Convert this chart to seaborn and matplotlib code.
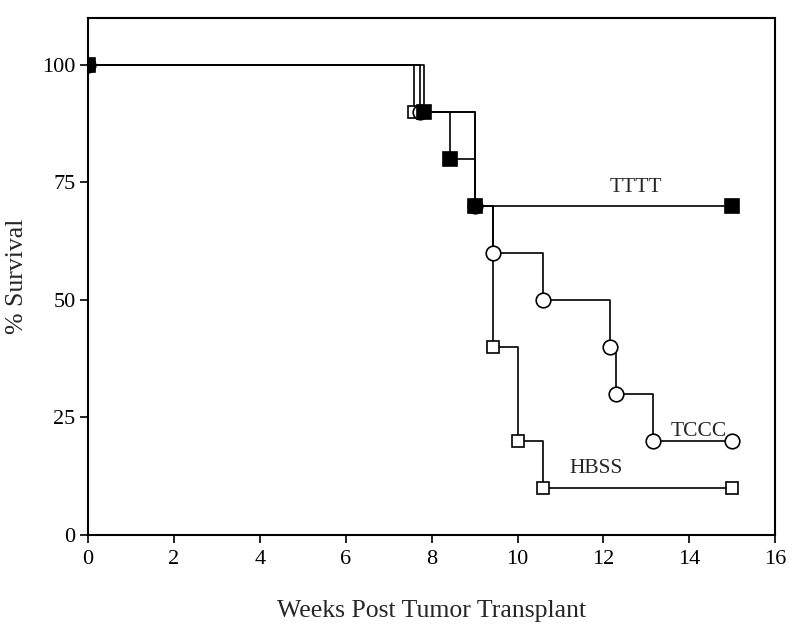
import pandas as pd
import matplotlib
matplotlib.use("Agg")
import matplotlib.pyplot as plt
import seaborn as sns

# Kaplan-Meier style survival steps
weeks_hbss = [0, 7.6, 9.0, 9.44, 10.0, 10.6, 15]
surv_hbss = [100, 90, 70, 40, 20, 10, 10]

weeks_tccc = [0, 7.72, 9.0, 9.44, 10.6, 12.15, 12.3, 13.15, 15]
surv_tccc = [100, 90, 70, 60, 50, 40, 30, 20, 20]

weeks_tttt = [0, 7.83, 8.44, 9.0, 15]
surv_tttt = [100, 90, 80, 70, 70]

group_names = ["HBSS", "TCCC", "TTTT"]
x_ticks = [0, 2, 4, 6, 8, 10, 12, 14, 16]
y_ticks = [0, 25, 50, 75, 100]

frames = []
for name, w, s in zip(group_names,
                      [weeks_hbss, weeks_tccc, weeks_tttt],
                      [surv_hbss, surv_tccc, surv_tttt]):
    frames.append(pd.DataFrame({"group": name, "weeks": w, "survival": s}))
df = pd.concat(frames, ignore_index=True)

sns.set_style("white")
plt.rcParams["font.family"] = ["Liberation Serif", "DejaVu Serif"]

fig = plt.figure(figsize=(8, 6.33), dpi=100)
ax = fig.add_axes([0.11, 0.155, 0.859, 0.817])

styles = {
    "HBSS": dict(marker="s", markerfacecolor="white", markersize=9),
    "TCCC": dict(marker="o", markerfacecolor="white", markersize=10.5),
    "TTTT": dict(marker="s", markerfacecolor="black", markersize=9.5),
}

for name in group_names:
    sub = df[df["group"] == name]
    sns.lineplot(data=sub, x="weeks", y="survival", ax=ax, color="black",
                 sort=False, estimator=None, drawstyle="steps-post",
                 linewidth=1.2, markeredgecolor="black", markeredgewidth=1.2,
                 **styles[name])

ax.text(12.75, 73.8, "TTTT", fontsize=15.5, ha="center", va="center")
ax.text(14.22, 22.0, "TCCC", fontsize=15.5, ha="center", va="center")
ax.text(11.84, 14.2, "HBSS", fontsize=15.5, ha="center", va="center")

ax.set_xlim(0, 16)
ax.set_ylim(0, 110)
ax.set_xticks(x_ticks)
ax.set_yticks(y_ticks)
ax.tick_params(axis="both", direction="out", length=6, width=1.2,
               labelsize=16, left=True, bottom=True, colors="black")
ax.tick_params(axis="x", pad=5)
ax.tick_params(axis="y", pad=3)
for sp in ax.spines.values():
    sp.set_color("black")
    sp.set_linewidth(1.5)

ax.set_xlabel("Weeks Post Tumor Transplant", fontsize=18.5, labelpad=22)
ax.set_ylabel("% Survival", fontsize=18.5, labelpad=10)

fig.savefig("out.png", dpi=100)
